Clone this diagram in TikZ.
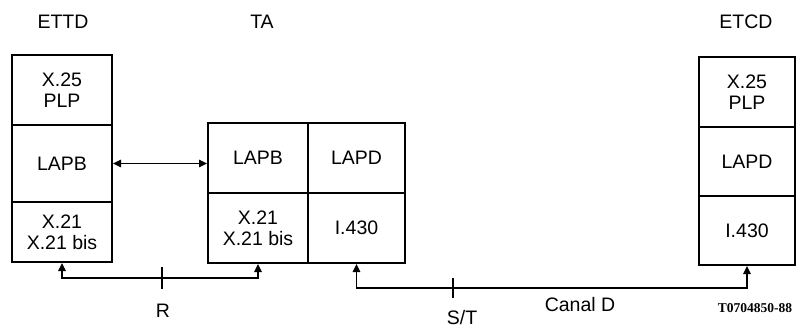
\documentclass[tikz,border=0pt]{standalone}
\usepackage{fontspec}
\setmainfont{Liberation Sans}
\newfontfamily\codefont{Liberation Serif}
\usetikzlibrary{arrows.meta,positioning,calc}

\tikzset{
  layer/.style={draw,line width=2pt,inner sep=0pt,align=center},
  link/.style={line width=1.3pt,{Triangle[length=8pt,width=7.5pt]}-{Triangle[length=8pt,width=7.5pt]}},
  tick/.style={line width=1.5pt}
}

\begin{document}
\begin{tikzpicture}[x=1pt,y=-1pt,font=\fontsize{19.5}{21}\selectfont]
  \useasboundingbox (0,0) rectangle (797,331);

  % ETTD
  \node[layer,minimum width=100pt,minimum height=70pt] (ettdplp) at (62,90) {X.25\\PLP};
  \node[layer,minimum width=100pt,minimum height=77pt] (ettdlapb) at (62,163.5) {LAPB};
  \node[layer,minimum width=100pt,minimum height=60pt] (ettdx21) at (62,232) {X.21\\X.21 bis};

  % TA
  \node[layer,minimum width=100pt,minimum height=70pt] (talapb) at (258,158) {LAPB};
  \node[layer,minimum width=100pt,minimum height=70pt] (tax21) at (258,228) {X.21\\X.21 bis};
  \node[layer,minimum width=97pt,minimum height=70pt] (talapd) at (356.5,158) {LAPD};
  \node[layer,minimum width=97pt,minimum height=70pt] (tai430) at (356.5,228) {I.430};

  % ETCD
  \node[layer,minimum width=96pt,minimum height=70pt] (etcdplp) at (747,92) {X.25\\PLP};
  \node[layer,minimum width=96pt,minimum height=69pt] (etcdlapd) at (747,161.5) {LAPD};
  \node[layer,minimum width=96pt,minimum height=69pt] (etcdi430) at (747,230.5) {I.430};

  \node (ettdlabel) at (63,22) {ETTD};
  \node (talabel) at (262,22) {TA};
  \node (etcdlabel) at (746,22) {ETCD};

  \draw[link] (ettdlapb.east) -- (ettdlapb.east -| talapb.west);
  \draw[link] (ettdx21.south) -- ++(0,15) -| (tax21.south);
  \draw[link] (tai430.south) -- ++(0,24) -| (etcdi430.south);

  \coordinate (rtick) at (162,277);
  \coordinate (sttick) at (453,287);
  \draw[tick] (rtick) ++(0,-10) -- ++(0,22);
  \draw[tick] (sttick) ++(0,-9) -- ++(0,20);

  \node (rlabel) at (163,311) {R};
  \node (stlabel) at (462,318) {S/T};
  \node (canallabel) at (580,305) {Canal D};
  \node (reflabel) at (755,308) {\codefont\bfseries\fontsize{13.5}{15}\selectfont T0704850-88};
\end{tikzpicture}
\end{document}
